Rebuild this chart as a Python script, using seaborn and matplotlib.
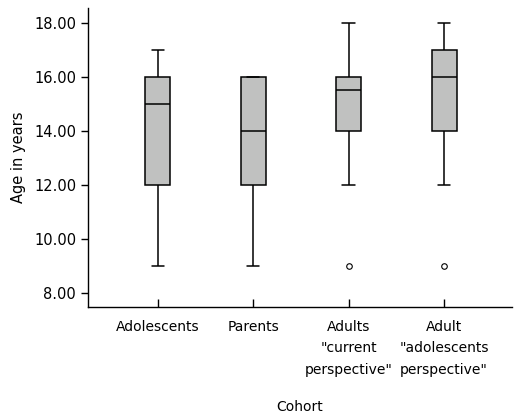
import seaborn as sns
import matplotlib.pyplot as plt
import pandas as pd

# Ages in years per cohort (raw responses that give the plotted box stats)
cohorts = ["Adolescents", "Parents", 'Adults\n"current\nperspective"',
           'Adult\n"adolescents\nperspective"']
adolescents = [9, 12, 15, 16, 17]
parents = [9, 12, 14, 16, 16]
adults_current = [9, 12, 14, 14, 15.5, 16, 16, 16, 18]
adults_adolescent = [9, 12, 14, 14, 16, 17, 17, 18, 18]

rows = []
for name, vals in zip(cohorts, [adolescents, parents, adults_current, adults_adolescent]):
    for v in vals:
        rows.append((name, v))
df = pd.DataFrame(rows, columns=["Cohort", "Age"])

sns.set_style("white")
plt.rcParams['font.family'] = ['DejaVu Sans']

fig, ax = plt.subplots(figsize=(5.24, 4.2), dpi=100)
sns.boxplot(data=df, x="Cohort", y="Age", order=cohorts, width=0.26,
            color="#c0c1c0", linecolor="black", linewidth=1.1, saturation=1,
            flierprops=dict(marker="o", markersize=4, markerfacecolor="white",
                            markeredgecolor="black", markeredgewidth=0.8),
            ax=ax)

ax.set_xlim(-0.73, 3.71)
ax.set_ylim(7.48, 18.55)
ax.set_yticks([8, 10, 12, 14, 16, 18])
ax.set_yticklabels([f"{t:.2f}" for t in [8, 10, 12, 14, 16, 18]])
ax.set_xlabel("Cohort", fontsize=10, labelpad=16, color="black")
ax.set_ylabel("Age in years", fontsize=10.5, labelpad=6, color="black")

sns.despine(ax=ax)
for s in ["left", "bottom"]:
    ax.spines[s].set_color("black")
    ax.spines[s].set_linewidth(1)
ax.tick_params(axis="y", left=True, direction="out", length=5, width=1,
               labelsize=10.5, colors="black")
ax.tick_params(axis="x", bottom=True, direction="in", length=6, width=1,
               labelsize=10, colors="black", pad=9)
for lab in ax.get_xticklabels():
    lab.set_linespacing(1.72)

plt.subplots_adjust(left=0.168, right=0.977, top=0.981, bottom=0.269)
plt.savefig("out.png", dpi=100)
